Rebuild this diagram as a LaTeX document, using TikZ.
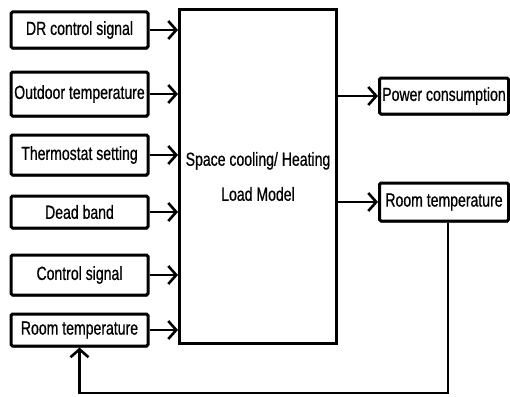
\documentclass[tikz,border=0pt]{standalone}
\usepackage{fontspec}
\setmainfont[FakeStretch=0.74,FakeBold=0.6]{Liberation Sans}
\usetikzlibrary{positioning, arrows.meta, shadows}

\begin{document}
\begin{tikzpicture}[x=1pt,y=-1pt,
  every node/.style={font=\fontsize{19}{21}\selectfont},
  inbox/.style={draw,line width=3pt,rounded corners=1.5pt,fill=white,
    minimum width=137pt,minimum height=36pt,inner sep=2pt,
    drop shadow={shadow xshift=0.6pt,shadow yshift=-1.4pt,opacity=1,fill=black}},
  outbox/.style={inbox,minimum width=129pt},
  model/.style={draw,line width=3pt,minimum width=157pt,minimum height=334pt,align=center},
  arr/.style={line width=2.6pt,-{Straight Barb[length=8pt,width=18pt,line width=2.6pt]}}]
  \useasboundingbox (0,0) rectangle (510,396);

  \node[inbox] (dr) at (79.5,30) {DR control signal};
  \node[inbox,minimum height=44pt] (outdoor) at (79.5,94) {Outdoor temperature};
  \node[inbox,minimum height=40pt] (thermo) at (79.5,155) {Thermostat setting};
  \node[inbox,minimum height=32pt] (dead) at (79.5,212) {Dead band};
  \node[inbox,minimum height=40pt] (ctrl) at (79.5,275) {Control signal};
  \node[inbox,minimum height=32pt] (roomin) at (79.5,330) {Room temperature};

  \node[model] (model) at (258,176.5) {Space cooling/ Heating\\[14pt]Load Model};

  \node[outbox,minimum height=36pt] (power) at (444,96) {Power consumption};
  \node[outbox,minimum height=38pt] (roomout) at (444,202) {Room temperature};
  \coordinate (fb) at (448,393);

  \draw[arr] (dr.east) -- (dr.east -| model.west);
  \draw[arr] (outdoor.east) -- (outdoor.east -| model.west);
  \draw[arr] (thermo.east) -- (thermo.east -| model.west);
  \draw[arr] (dead.east) -- (dead.east -| model.west);
  \draw[arr] (ctrl.east) -- (ctrl.east -| model.west);
  \draw[arr] (roomin.east) -- (roomin.east -| model.west);

  \draw[arr] (model.east |- power) -- (power.west);
  \draw[arr] (model.east |- roomout) -- (roomout.west);
  \draw[arr] (roomout.south -| fb) -- (fb) -| (roomin.south);
\end{tikzpicture}
\end{document}
